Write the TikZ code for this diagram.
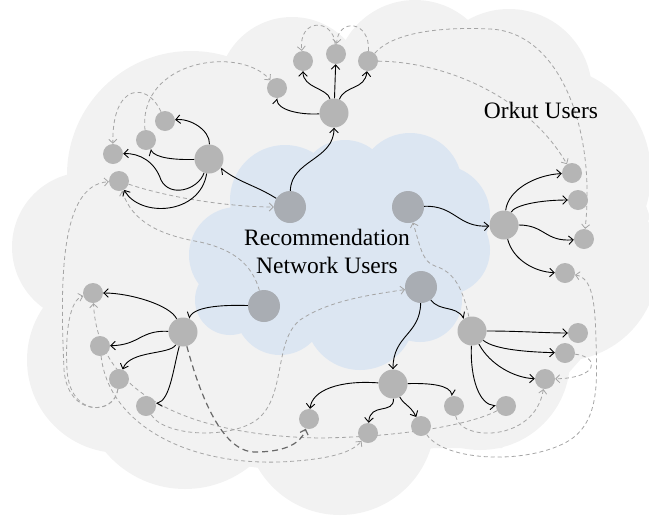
\documentclass[tikz,border=0pt]{standalone}
\usepackage{fontspec}
\setmainfont{Liberation Serif}
\usetikzlibrary{arrows.meta}
\definecolor{cloudgray}{RGB}{242,242,242}
\definecolor{cloudblue}{RGB}{220,230,242}
\definecolor{recnode}{RGB}{169,173,179}
\definecolor{orknode}{RGB}{181,181,181}
\definecolor{dashgray}{RGB}{165,165,165}
\definecolor{darkdash}{RGB}{105,105,105}
\pgfdeclarelayer{bg}
\pgfdeclarelayer{edges}
\pgfsetlayers{bg,edges,main}
\begin{document}
\begin{tikzpicture}[x=1pt,y=-1pt,
  rnode/.style={circle,fill=recnode,minimum size=32pt,inner sep=0pt},
  mnode/.style={circle,fill=orknode,minimum size=29pt,inner sep=0pt},
  onode/.style={circle,fill=orknode,minimum size=20pt,inner sep=0pt},
  link/.style={line width=0.9pt,-{Straight Barb[length=4.5pt,width=8.5pt]}},
  hlink/.style={line width=0.9pt,-{Straight Barb[harpoon,length=4.5pt,width=8.5pt]}},
  hslink/.style={line width=0.9pt,-{Straight Barb[harpoon,swap,length=4.5pt,width=8.5pt]}},
  dlink/.style={draw=dashgray,line width=0.8pt,dash pattern=on 4pt off 3pt,-{Straight Barb[length=4pt,width=8pt]}},
  ddlink/.style={draw=darkdash,line width=1.2pt,dash pattern=on 6pt off 4pt,-{Straight Barb[length=4.5pt,width=8.5pt]}},
  lbl/.style={font=\fontsize{23.5}{27.5}\selectfont,inner sep=0pt}
]
\useasboundingbox (0,0) rectangle (649,515);
% ---------------- clouds ----------------
\begin{pgfonlayer}{bg}
\fill[cloudgray] (67,175) -- (227,57) -- (345,40) -- (468,20) -- (602,83) -- (650,217)
  -- (580,360) -- (502,448) -- (435,448) -- (260,468) -- (85,445) -- (43,308) -- cycle;
\foreach \cx/\cy/\r in {191/175/124, 292/91/74, 415/80/80, 509/92/83, 542/174/109,
  561/264/97, 480/360/90, 340/420/95, 185/385/104, 120/360/93, 87/247/75}
  \fill[cloudgray] (\cx,\cy) circle[radius=\r];
\fill[cloudblue] (335,255) ellipse[x radius=110,y radius=70];
\foreach \cx/\cy/\r in {237/255/48, 285/200/55, 345/185/45, 410/185/52, 440/215/50,
  445/250/45, 420/300/42, 360/315/55, 280/310/45, 230/300/35}
  \fill[cloudblue] (\cx,\cy) circle[radius=\r];
\end{pgfonlayer}
% ---------------- texts ----------------
\node[lbl,align=center,anchor=north] (rtext) at (327,229) {Recommendation\\Network Users};
\node[lbl] (otext) at (541,110) {Orkut Users};
% ---------------- nodes ----------------
\node[rnode] (R1) at (290,207) {};
\node[rnode] (R2) at (408,207) {};
\node[rnode] (R3) at (264,306) {};
\node[rnode] (R4) at (421,287) {};
\node[mnode] (T0) at (334,113) {};
\node[mnode] (L0) at (209,159) {};
\node[mnode] (Rt0) at (504,225) {};
\node[mnode] (BR0) at (472,331) {};
\node[mnode] (B0) at (393,384) {};
\node[mnode] (LB0) at (183,332) {};
\node[onode] (T1) at (277,88) {};
\node[onode] (T2) at (303,61) {};
\node[onode] (T3) at (336,54) {};
\node[onode] (T4) at (368,61) {};
\node[onode] (L1) at (165,121) {};
\node[onode] (L2) at (146,140) {};
\node[onode] (L3) at (113,154) {};
\node[onode] (L4) at (119,181) {};
\node[onode] (Rt1) at (572,173) {};
\node[onode] (Rt2) at (578,200) {};
\node[onode] (Rt3) at (584,239) {};
\node[onode] (Rt4) at (565,273) {};
\node[onode] (BR1) at (578,333) {};
\node[onode] (BR2) at (565,353) {};
\node[onode] (BR3) at (545,379) {};
\node[onode] (BR4) at (506,406) {};
\node[onode] (B1) at (368,433) {};
\node[onode] (B2) at (421,426) {};
\node[onode] (B3) at (454,406) {};
\node[onode] (B4) at (309,419) {};
\node[onode] (LB1) at (93,293) {};
\node[onode] (LB2) at (100,346) {};
\node[onode] (LB3) at (119,379) {};
\node[onode] (LB4) at (146,406) {};
% ---------------- connectors ----------------
\begin{pgfonlayer}{edges}
% dashed (light)
\draw[dlink] (T4) .. controls (370,20) and (338,18) .. (T3);
\draw[dlink] (T3) .. controls (333,18) and (298,18) .. (T2);
\draw[dlink] (L2) .. controls (138,60) and (240,45) .. (T1);
\draw[dlink] (L1) .. controls (148,82) and (112,82) .. (L3);
\draw[dlink] (T4) .. controls (450,62) and (530,100) .. (Rt1);
\draw[dlink] (T4) .. controls (395,30) and (450,27) .. (490,29) .. controls (560,32) and (596,130) .. (Rt3);
\draw[dlink] (L4) .. controls (170,198) and (230,207) .. (R1);
\draw[dlink] (R3) .. controls (252,265) and (235,250) .. (200,242) .. controls (160,235) and (132,222) .. (L4);
\draw[dlink] (LB3) .. controls (115,415) and (68,418) .. (64,370) .. controls (60,280) and (60,185) .. (L4);
\draw[dlink] (LB3) .. controls (115,415) and (70,418) .. (67,370) .. controls (65,330) and (70,300) .. (LB1);
\draw[dlink] (BR4) .. controls (470,425) and (400,437) .. (320,438) .. controls (200,436) and (98,400) .. (LB1);
\draw[dlink] (LB2) .. controls (108,420) and (180,465) .. (280,462) .. controls (320,460) and (350,455) .. (B1);
\draw[dlink] (LB4) .. controls (165,438) and (240,440) .. (262,415) .. controls (285,390) and (275,340) .. (300,320) .. controls (330,300) and (370,295) .. (R4);
\draw[dlink] (B3) .. controls (460,442) and (535,442) .. (BR3);
\draw[dlink] (B2) .. controls (445,462) and (530,465) .. (570,440) .. controls (600,420) and (597,380) .. (596,340) .. controls (595,300) and (592,278) .. (Rt4);
\draw[dlink] (BR2) .. controls (600,357) and (599,378) .. (BR3);
\draw[dlink] (BR0) .. controls (463,290) and (455,272) .. (435,266) .. controls (422,262) and (420,245) .. (R2);
% dashed (dark)
\draw[ddlink] (LB0) .. controls (200,395) and (222,452) .. (255,452) .. controls (280,452) and (300,446) .. (B4);
% solid
\draw[link] (R1) .. controls (291,160) and (334,160) .. (T0);
\draw[hlink] (R1) .. controls (255,185) and (240,183) .. (L0);
\draw[hlink] (T0) .. controls (300,115) and (277,110) .. (T1);
\draw[link] (T0) .. controls (327,88) and (303,88) .. (T2);
\draw[link] (T0) -- (T3);
\draw[link] (T0) .. controls (345,85) and (365,90) .. (T4);
\draw[link] (L0) .. controls (210,130) and (190,118) .. (L1);
\draw[hlink] (L0) .. controls (175,160) and (155,158) .. (L2);
\draw[link] (L0) .. controls (198,190) and (170,198) .. (161,180) .. controls (155,162) and (140,153) .. (L3);
\draw[link] (L0) .. controls (200,215) and (140,218) .. (L4);
\draw[link] (R2) .. controls (455,205) and (458,228) .. (Rt0);
\draw[link] (Rt0) .. controls (508,190) and (535,175) .. (Rt1);
\draw[link] (Rt0) .. controls (515,205) and (540,200) .. (Rt2);
\draw[link] (Rt0) .. controls (545,225) and (545,242) .. (Rt3);
\draw[link] (Rt0) .. controls (513,260) and (535,272) .. (Rt4);
\draw[hlink] (R4) .. controls (440,312) and (455,305) .. (BR0);
\draw[link] (R4) .. controls (420,335) and (393,335) .. (B0);
\draw[link] (BR0) .. controls (520,331) and (545,333) .. (BR1);
\draw[link] (BR0) .. controls (495,350) and (530,352) .. (BR2);
\draw[link] (BR0) .. controls (490,365) and (515,378) .. (BR3);
\draw[hslink] (BR0) .. controls (470,380) and (480,405) .. (BR4);
\draw[link] (B0) .. controls (340,380) and (312,390) .. (B4);
\draw[link] (B0) .. controls (394,415) and (370,402) .. (B1);
\draw[link] (B0) .. controls (404,405) and (410,405) .. (B2);
\draw[hlink] (B0) .. controls (430,383) and (450,385) .. (B3);
\draw[hslink] (R3) .. controls (230,305) and (195,305) .. (LB0);
\draw[link] (LB0) .. controls (170,305) and (130,293) .. (LB1);
\draw[link] (LB0) .. controls (140,330) and (140,345) .. (LB2);
\draw[link] (LB0) .. controls (170,355) and (130,350) .. (LB3);
\draw[hlink] (LB0) .. controls (173,370) and (170,400) .. (LB4);
\end{pgfonlayer}
\end{tikzpicture}
\end{document}
